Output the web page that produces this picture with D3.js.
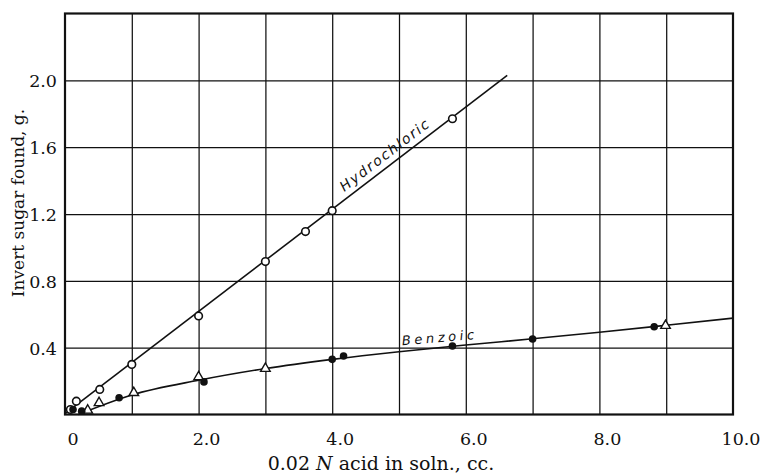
<!DOCTYPE html>
<meta charset="utf-8">
<style>

body {
  margin: 0;
  background: #fff;
}

.grid line {
  stroke: #111;
  stroke-width: 1.25px;
}

.grid path { display: none; }

.tick-label {
  font: 17.5px "DejaVu Serif", serif;
  fill: #111;
}

.title {
  font: 17px "DejaVu Serif", serif;
  fill: #111;
}

.curve {
  fill: none;
  stroke: #111;
  stroke-width: 1.6px;
}

.hand {
  font-family: "DejaVu Sans", sans-serif;
  font-style: italic;
  fill: #111;
}

</style>
<body>
<script src="https://cdn.jsdelivr.net/npm/d3@7"></script>
<script>

// tick labels
var xTicks = [0, 2, 4, 6, 8, 10],
    xTickText = ["0", "2.0", "4.0", "6.0", "8.0", "10.0"],
    yTicks = [0.4, 0.8, 1.2, 1.6, 2.0],
    yTickText = ["0.4", "0.8", "1.2", "1.6", "2.0"];

// hydrochloric: open circles + straight line
var hclPoints = [[0.08, 0.03], [0.17, 0.08], [0.52, 0.15], [1.0, 0.30], [2.0, 0.59],
                 [3.0, 0.915], [3.6, 1.095], [4.0, 1.22], [5.8, 1.77]];
var hclLine = [[0.0, 0.005], [6.62, 2.03]];

// benzoic: filled dots, open triangles, smooth curve
var benzDots = [[0.12, 0.03], [0.25, 0.02], [0.81, 0.10], [2.08, 0.195], [4.0, 0.33],
                [4.17, 0.35], [5.8, 0.41], [7.0, 0.452], [8.82, 0.525]];
var benzTriangles = [[0.34, 0.025], [0.51, 0.07], [1.03, 0.13], [2.0, 0.225],
                     [3.0, 0.275], [8.99, 0.532]];
var benzCurve = [[0.2, 0.0], [1.0, 0.117], [2.0, 0.205], [3.0, 0.275], [4.0, 0.33],
                 [5.0, 0.376], [6.0, 0.416], [7.0, 0.453], [8.0, 0.492], [9.0, 0.534], [10.0, 0.577]];

var width = 760, height = 475;
var plotLeft = 65, plotRight = 733, plotTop = 13.5, plotBottom = 414.5;

var x = d3.scaleLinear().domain([0, 10]).range([plotLeft, plotRight]);
var y = d3.scaleLinear().domain([0, 2.4]).range([plotBottom, plotTop]);

var svg = d3.select("body").append("svg")
    .attr("width", width)
    .attr("height", height);

// grid
svg.append("g")
    .attr("class", "grid")
    .attr("transform", "translate(0," + plotBottom + ")")
    .call(d3.axisBottom(x).tickValues(d3.range(1, 10)).tickSize(-(plotBottom - plotTop)).tickFormat(""));

svg.append("g")
    .attr("class", "grid")
    .attr("transform", "translate(" + plotLeft + ",0)")
    .call(d3.axisLeft(y).tickValues(yTicks).tickSize(-(plotRight - plotLeft)).tickFormat(""));

// frame
svg.append("rect")
    .attr("x", plotLeft)
    .attr("y", plotTop)
    .attr("width", plotRight - plotLeft)
    .attr("height", plotBottom - plotTop)
    .style("fill", "none")
    .style("stroke", "#111")
    .style("stroke-width", 2.2);

// tick labels (printed a little right of the rules, as in the plate)
svg.selectAll(".xlab")
    .data(xTicks)
  .enter().append("text")
    .attr("class", "tick-label")
    .attr("x", function(d) { return x(d) + 8; })
    .attr("y", 445)
    .style("text-anchor", "middle")
    .text(function(d, i) { return xTickText[i]; });

svg.selectAll(".ylab")
    .data(yTicks)
  .enter().append("text")
    .attr("class", "tick-label")
    .attr("x", 57)
    .attr("y", function(d) { return y(d) + 1; })
    .attr("dy", ".35em")
    .style("text-anchor", "end")
    .text(function(d, i) { return yTickText[i]; });

// axis titles
var xt = svg.append("text")
    .attr("class", "title")
    .attr("x", 381)
    .attr("y", 470)
    .style("font-size", "19px")
    .style("text-anchor", "middle");
xt.append("tspan").text("0.02 ");
xt.append("tspan").style("font-style", "italic").text("N");
xt.append("tspan").text(" acid in soln., cc.");

svg.append("text")
    .attr("class", "title")
    .attr("transform", "translate(24,203) rotate(-90)")
    .style("text-anchor", "middle")
    .text("Invert sugar found, g.");

// curves
var line = d3.line()
    .x(function(d) { return x(d[0]); })
    .y(function(d) { return y(d[1]); });

svg.append("path")
    .attr("class", "curve")
    .attr("d", line(hclLine));

svg.append("path")
    .attr("class", "curve")
    .attr("d", line.curve(d3.curveMonotoneX)(benzCurve));

// markers
svg.selectAll(".hcl")
    .data(hclPoints)
  .enter().append("circle")
    .attr("cx", function(d) { return x(d[0]); })
    .attr("cy", function(d) { return y(d[1]); })
    .attr("r", 3.8)
    .style("fill", "#fff")
    .style("stroke", "#111")
    .style("stroke-width", 1.6);

svg.selectAll(".btri")
    .data(benzTriangles)
  .enter().append("path")
    .attr("transform", function(d) { return "translate(" + x(d[0]) + "," + y(d[1]) + ")"; })
    .attr("d", d3.symbol().type(d3.symbolTriangle).size(40))
    .style("fill", "#fff")
    .style("stroke", "#111")
    .style("stroke-width", 1.4);

svg.selectAll(".bdot")
    .data(benzDots)
  .enter().append("circle")
    .attr("cx", function(d) { return x(d[0]); })
    .attr("cy", function(d) { return y(d[1]); })
    .attr("r", 3.8)
    .style("fill", "#111");

// curve labels
var hp0 = [x(hclLine[0][0]), y(hclLine[0][1])], hp1 = [x(hclLine[1][0]), y(hclLine[1][1])];
var hAngle = Math.atan2(hp1[1] - hp0[1], hp1[0] - hp0[0]) * 180 / Math.PI;

svg.append("text")
    .attr("class", "hand")
    .attr("transform", "translate(" + x(4.18) + "," + (y(0.3056 * 4.18) - 9) + ") rotate(" + hAngle + ")")
    .style("font-size", "14px")
    .style("letter-spacing", "1.8px")
    .text("Hydrochloric");

svg.append("text")
    .attr("class", "hand")
    .attr("transform", "translate(" + x(5.05) + "," + (y(0.378) - 6) + ") rotate(-5)")
    .style("font-size", "13px")
    .style("letter-spacing", "3.6px")
    .text("Benzoic");

</script>
